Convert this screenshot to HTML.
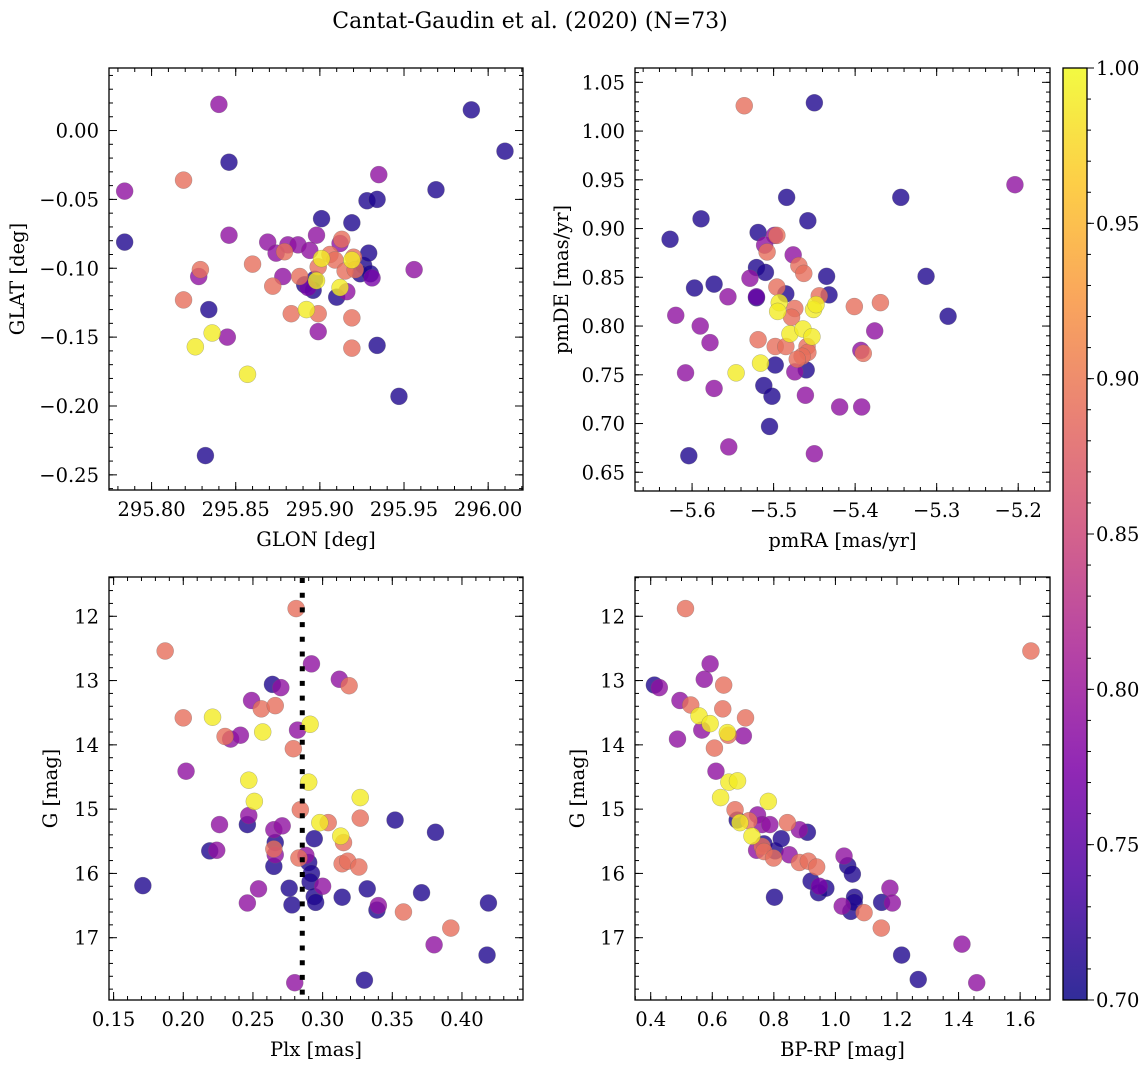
<!DOCTYPE html>
<html><head><meta charset="utf-8">
<style>
html,body{margin:0;padding:0;background:#fff;}
svg{display:block;font-family:"DejaVu Serif","Liberation Serif",serif;}
</style></head>
<body>
<svg id="fig" width="1148" height="1067" viewBox="0 0 1148 1067" xmlns="http://www.w3.org/2000/svg">
<defs>
<linearGradient id="plasma" x1="0" y1="1" x2="0" y2="0">
<stop offset="0" stop-color="#0d0887"/><stop offset="0.125" stop-color="#4c02a1"/>
<stop offset="0.25" stop-color="#7e03a8"/><stop offset="0.375" stop-color="#a92395"/>
<stop offset="0.5" stop-color="#cc4778"/><stop offset="0.625" stop-color="#e56b5d"/>
<stop offset="0.75" stop-color="#f89540"/><stop offset="0.875" stop-color="#fdc527"/>
<stop offset="1" stop-color="#f0f921"/>
</linearGradient>
</defs>
<text x="530" y="28" text-anchor="middle" font-size="22">Cantat-Gaudin et al. (2020) (N=73)</text>
</svg>
<script>
// ---- Panel 1: GLON vs GLAT ----
const p1Lon=[295.784,295.784,295.819,295.840,295.846,295.846,295.819,295.829,295.828,295.834,295.836,295.826,295.845,295.832,295.857,295.860,295.869,295.872,295.874,295.878,295.881,295.879,295.887,295.888,295.883,295.891,295.892,295.893,295.894,295.896,295.897,295.898,295.898,295.899,295.899,295.899,295.901,295.901,295.906,295.909,295.910,295.912,295.913,295.912,295.916,295.915,295.919,295.919,295.919,295.920,295.919,295.921,295.926,295.924,295.928,295.929,295.930,295.931,295.934,295.934,295.935,295.947,295.956,295.969,295.990,296.010];
const p1Lat=[-0.044,-0.081,-0.036,0.019,-0.023,-0.076,-0.123,-0.101,-0.106,-0.130,-0.147,-0.157,-0.150,-0.236,-0.177,-0.097,-0.081,-0.113,-0.089,-0.106,-0.083,-0.088,-0.083,-0.106,-0.133,-0.112,-0.130,-0.114,-0.087,-0.116,-0.108,-0.109,-0.076,-0.099,-0.133,-0.146,-0.064,-0.093,-0.090,-0.094,-0.121,-0.082,-0.079,-0.114,-0.117,-0.102,-0.067,-0.136,-0.158,-0.092,-0.094,-0.101,-0.098,-0.104,-0.051,-0.089,-0.104,-0.107,-0.156,-0.050,-0.032,-0.193,-0.101,-0.043,0.015,-0.015];
const p1Prob=[0.79,0.71,0.89,0.79,0.71,0.79,0.89,0.89,0.79,0.71,0.99,0.99,0.79,0.71,0.99,0.89,0.79,0.89,0.79,0.79,0.79,0.89,0.79,0.89,0.89,0.71,0.99,0.77,0.79,0.71,0.71,0.99,0.79,0.89,0.89,0.79,0.71,0.99,0.89,0.89,0.71,0.79,0.89,0.99,0.79,0.89,0.71,0.89,0.89,0.89,0.99,0.89,0.71,0.71,0.71,0.71,0.71,0.77,0.71,0.71,0.79,0.71,0.79,0.71,0.71,0.71];
// ---- Panel 2: pmRA vs pmDE ----
const p2Pmra=[-5.627,-5.589,-5.597,-5.573,-5.620,-5.590,-5.578,-5.608,-5.573,-5.604,-5.556,-5.555,-5.546,-5.536,-5.529,-5.521,-5.519,-5.510,-5.521,-5.521,-5.511,-5.508,-5.519,-5.516,-5.512,-5.502,-5.505,-5.499,-5.496,-5.496,-5.493,-5.495,-5.498,-5.498,-5.485,-5.485,-5.484,-5.476,-5.469,-5.463,-5.474,-5.478,-5.480,-5.464,-5.459,-5.458,-5.465,-5.471,-5.474,-5.460,-5.461,-5.458,-5.453,-5.451,-5.448,-5.444,-5.450,-5.450,-5.435,-5.432,-5.419,-5.401,-5.393,-5.390,-5.392,-5.376,-5.369,-5.344,-5.313,-5.286,-5.204];
const p2Pmde=[0.889,0.910,0.839,0.843,0.811,0.800,0.783,0.752,0.736,0.667,0.830,0.676,0.752,1.026,0.849,0.860,0.896,0.855,0.830,0.829,0.883,0.876,0.786,0.762,0.739,0.728,0.697,0.893,0.893,0.840,0.824,0.815,0.779,0.760,0.779,0.833,0.932,0.873,0.862,0.854,0.818,0.809,0.792,0.797,0.779,0.773,0.769,0.766,0.753,0.755,0.729,0.908,0.789,0.817,0.822,0.831,1.029,0.669,0.851,0.832,0.717,0.820,0.775,0.772,0.717,0.795,0.824,0.932,0.851,0.810,0.945];
const p2Prob=[0.71,0.71,0.71,0.71,0.79,0.79,0.79,0.79,0.79,0.71,0.79,0.79,0.99,0.89,0.79,0.71,0.71,0.71,0.76,0.71,0.79,0.89,0.89,0.99,0.71,0.71,0.71,0.79,0.89,0.89,0.99,0.99,0.89,0.71,0.89,0.71,0.71,0.79,0.89,0.89,0.89,0.89,0.99,0.99,0.89,0.89,0.89,0.89,0.79,0.71,0.79,0.71,0.99,0.99,0.99,0.89,0.71,0.79,0.71,0.71,0.79,0.89,0.79,0.89,0.79,0.79,0.89,0.71,0.71,0.71,0.79];
// ---- Panel 3: Plx vs G ----
const p3Plx=[0.171,0.187,0.200,0.202,0.221,0.219,0.224,0.226,0.230,0.234,0.241,0.249,0.247,0.251,0.247,0.246,0.246,0.254,0.256,0.257,0.264,0.270,0.266,0.265,0.266,0.265,0.266,0.265,0.271,0.276,0.278,0.279,0.281,0.280,0.282,0.283,0.284,0.288,0.290,0.292,0.291,0.294,0.295,0.292,0.291,0.290,0.294,0.298,0.304,0.300,0.312,0.319,0.313,0.315,0.314,0.318,0.326,0.314,0.327,0.327,0.332,0.330,0.339,0.340,0.352,0.358,0.371,0.381,0.380,0.392,0.418,0.419];
const p3G=[16.19,12.54,13.58,14.41,13.57,15.65,15.64,15.24,13.87,13.91,13.85,13.31,14.55,14.88,15.10,15.24,16.46,16.24,13.44,13.80,13.06,13.11,13.39,15.32,15.52,15.62,15.71,15.89,15.26,16.23,16.49,14.06,11.88,17.70,13.77,15.76,15.01,15.72,15.83,16.00,16.13,16.36,16.45,12.74,13.68,14.58,15.46,15.21,15.21,16.20,12.98,13.08,15.42,15.52,15.85,15.81,15.90,16.37,14.82,15.14,16.24,17.66,16.57,16.50,15.17,16.60,16.30,15.36,17.11,16.85,17.27,16.46];
const p3Prob=[0.71,0.89,0.89,0.79,0.99,0.71,0.79,0.79,0.89,0.79,0.79,0.79,0.99,0.99,0.79,0.71,0.79,0.79,0.89,0.99,0.71,0.79,0.89,0.79,0.71,0.89,0.79,0.71,0.79,0.71,0.71,0.89,0.89,0.79,0.79,0.89,0.89,0.79,0.71,0.71,0.71,0.71,0.71,0.79,0.99,0.99,0.71,0.99,0.89,0.79,0.79,0.89,0.99,0.89,0.89,0.89,0.89,0.71,0.99,0.89,0.71,0.71,0.71,0.79,0.71,0.89,0.71,0.71,0.79,0.89,0.71,0.71];
// ---- Panel 4: BP-RP vs G ----
const p4Col=[0.412,0.428,0.495,0.487,0.513,0.530,0.557,0.566,0.574,0.593,0.593,0.607,0.612,0.627,0.634,0.637,0.652,0.649,0.654,0.682,0.701,0.708,0.674,0.681,0.690,0.719,0.729,0.744,0.747,0.762,0.768,0.762,0.768,0.787,0.782,0.804,0.799,0.802,0.824,0.844,0.850,0.883,0.883,0.909,0.912,0.939,0.921,0.945,0.948,0.969,1.028,1.040,1.055,1.022,1.050,1.062,1.061,1.093,1.150,1.149,1.177,1.185,1.215,1.269,1.411,1.459,1.635];
const p4G=[13.07,13.11,13.31,13.91,11.88,13.38,13.55,13.77,12.98,12.74,13.67,14.05,14.41,14.82,13.44,13.07,13.85,13.81,14.58,14.56,13.86,13.58,15.01,15.17,15.21,15.18,15.42,15.64,15.09,15.24,15.54,15.58,15.66,15.24,14.88,15.65,15.76,16.37,15.46,15.21,15.71,15.83,15.32,15.36,15.81,15.90,16.12,16.30,16.20,16.23,15.73,15.88,16.01,16.51,16.59,16.37,16.45,16.61,16.45,16.85,16.23,16.46,17.27,17.65,17.10,17.70,12.54];
const p4Prob=[0.71,0.79,0.79,0.79,0.89,0.89,0.99,0.79,0.79,0.79,0.99,0.89,0.79,0.99,0.89,0.89,0.89,0.99,0.99,0.99,0.79,0.89,0.89,0.71,0.99,0.89,0.99,0.79,0.79,0.79,0.71,0.89,0.89,0.79,0.99,0.71,0.89,0.71,0.71,0.89,0.79,0.89,0.79,0.71,0.89,0.89,0.71,0.71,0.77,0.71,0.79,0.71,0.71,0.79,0.71,0.71,0.71,0.89,0.71,0.89,0.79,0.79,0.71,0.71,0.79,0.79,0.89];
// ---- Tick labels ----
const p1XTicks=[295.80,295.85,295.90,295.95,296.00];
const p1YTicks=[0.00,-0.05,-0.10,-0.15,-0.20,-0.25];
const p2XTicks=[-5.6,-5.5,-5.4,-5.3,-5.2];
const p2YTicks=[0.65,0.70,0.75,0.80,0.85,0.90,0.95,1.00,1.05];
const p3XTicks=[0.15,0.20,0.25,0.30,0.35,0.40];
const gTicks=[12,13,14,15,16,17];
const p4XTicks=[0.4,0.6,0.8,1.0,1.2,1.4,1.6];
const cbTicks=[0.70,0.75,0.80,0.85,0.90,0.95,1.00];
const plxRef=[0.2854];

const NS='http://www.w3.org/2000/svg';
const svg=document.getElementById('fig');
const FS=19.5;
function mk(tag,attrs,parent){const e=document.createElementNS(NS,tag);for(const k in attrs)e.setAttribute(k,attrs[k]);(parent||svg).appendChild(e);return e;}
const stops=[[13,8,135],[76,2,161],[126,3,168],[169,35,149],[204,71,120],[229,107,93],[248,149,64],[253,197,39],[240,249,33]];
function plasma(t){t=Math.max(0,Math.min(1,t));const s=t*8,i=Math.min(7,Math.floor(s)),f=s-i;const a=stops[i],b=stops[i+1];return 'rgb('+[0,1,2].map(k=>Math.round(a[k]+(b[k]-a[k])*f)).join(',')+')';}
function fmt(v,d){return (v<0?'\u2212':'')+Math.abs(v).toFixed(d);}

function panel(o){
  const g=mk('g',{});
  
  
  const sx=v=>o.x0+(v-o.xd[0])/(o.xd[1]-o.xd[0])*(o.x1-o.x0);
  const sy=v=>o.inv? o.y0+(v-o.yd[0])/(o.yd[1]-o.yd[0])*(o.y1-o.y0) : o.y1-(v-o.yd[0])/(o.yd[1]-o.yd[0])*(o.y1-o.y0);
  const idx=o.xs.map((_,i)=>i).sort((a,b)=>o.ps[a]-o.ps[b]);
  const pg=mk('g',{},g);
  
  
  idx.forEach(i=>{
    const c=mk('circle',{cx:sx(o.xs[i]),cy:sy(o.ys[i]),r:8.5,fill:plasma((o.ps[i]-0.7)/0.3),'fill-opacity':0.8,stroke:'#666','stroke-opacity':0.5,'stroke-width':0.5},pg);
    
    
  });
  if(o.vline){o.vline.forEach(v=>{const l=mk('line',{x1:sx(v),x2:sx(v),y1:o.y0+1,y2:o.y1,stroke:'#000','stroke-width':5,'stroke-dasharray':'5,9.7'},g);
    
    });}
  const f=mk('rect',{x:o.x0,y:o.y0,width:o.x1-o.x0,height:o.y1-o.y0,fill:'none',stroke:'#000','stroke-width':1.3},g);
  
  
  const tk=mk('g',{stroke:'#000','stroke-width':1},g);
  for(let v=Math.ceil(o.xd[0]/o.xm-1e-6)*o.xm; v<=o.xd[1]+1e-9; v+=o.xm){const x=sx(v);
    mk('line',{x1:x,x2:x,y1:o.y1,y2:o.y1-4},tk);mk('line',{x1:x,x2:x,y1:o.y0,y2:o.y0+4},tk);}
  const ylo=Math.min(o.yd[0],o.yd[1]),yhi=Math.max(o.yd[0],o.yd[1]);
  for(let v=Math.ceil(ylo/o.ym-1e-6)*o.ym; v<=yhi+1e-9; v+=o.ym){const y=sy(v);
    mk('line',{x1:o.x0,x2:o.x0+4,y1:y,y2:y},tk);mk('line',{x1:o.x1,x2:o.x1-4,y1:y,y2:y},tk);}
  o.xt.forEach(v=>{const x=sx(v);
    mk('line',{x1:x,x2:x,y1:o.y1,y2:o.y1-8},tk);mk('line',{x1:x,x2:x,y1:o.y0,y2:o.y0+8},tk);
    const t=mk('text',{x:x,y:o.y1+26,'text-anchor':'middle','font-size':FS},g);t.textContent=fmt(v,o.xdp);
    
    });
  o.yt.forEach(v=>{const y=sy(v);
    mk('line',{x1:o.x0,x2:o.x0+8,y1:y,y2:y},tk);mk('line',{x1:o.x1,x2:o.x1-8,y1:y,y2:y},tk);
    const t=mk('text',{x:o.x0-10,y:y+7,'text-anchor':'end','font-size':FS},g);t.textContent=fmt(v,o.ydp);
    
    });
  const xl=mk('text',{x:(o.x0+o.x1)/2,y:o.y1+56,'text-anchor':'middle','font-size':FS},g);xl.textContent=o.xl;
  
  
  const yx=o.ylx,yy=(o.y0+o.y1)/2;
  const yl=mk('text',{x:yx,y:yy,'text-anchor':'middle','font-size':FS,transform:'rotate(-90 '+yx+' '+yy+')'},g);yl.textContent=o.yl;
  
  
}
panel({name:'glon-glat-panel',x0:109,x1:523,y0:68,y1:490,xd:[295.7747,296.0207],yd:[-0.2610,0.0454],xs:p1Lon,ys:p1Lat,ps:p1Prob,xt:p1XTicks,yt:p1YTicks,xm:0.01,ym:0.01,xdp:2,ydp:2,xl:'GLON [deg]',yl:'GLAT [deg]',ylx:24});
panel({name:'pm-panel',x0:635,x1:1050,y0:68,y1:491,xd:[-5.670,-5.161],yd:[0.6308,1.0647],xs:p2Pmra,ys:p2Pmde,ps:p2Prob,xt:p2XTicks,yt:p2YTicks,xm:0.02,ym:0.01,xdp:1,ydp:2,xl:'pmRA [mas/yr]',yl:'pmDE [mas/yr]',ylx:568});
panel({name:'plx-g-panel',x0:109,x1:523,y0:577,y1:1000,xd:[0.1467,0.4438],yd:[11.389,17.969],inv:true,xs:p3Plx,ys:p3G,ps:p3Prob,xt:p3XTicks,yt:gTicks,xm:0.01,ym:0.2,xdp:2,ydp:0,xl:'Plx [mas]',yl:'G [mag]',ylx:57,vline:plxRef});
panel({name:'cmd-panel',x0:635,x1:1050,y0:577,y1:1000,xd:[0.349,1.697],yd:[11.389,17.969],inv:true,xs:p4Col,ys:p4G,ps:p4Prob,xt:p4XTicks,yt:gTicks,xm:0.05,ym:0.2,xdp:1,ydp:0,xl:'BP-RP [mag]',yl:'G [mag]',ylx:584});
const cb=mk('g',{});


const cbx0=1063,cbx1=1087,cby0=68,cby1=1000;
mk('rect',{x:cbx0,y:cby0,width:cbx1-cbx0,height:cby1-cby0,fill:'url(#plasma)','fill-opacity':0.85,stroke:'#000','stroke-width':1.3},cb);
const cs=v=>cby1-(v-0.7)/0.3*(cby1-cby0);
for(let v=0.70;v<=1.0001;v+=0.01){mk('line',{x1:cbx1,x2:cbx1+4,y1:cs(v),y2:cs(v),stroke:'#000','stroke-width':1},cb);}
cbTicks.forEach(v=>{mk('line',{x1:cbx1,x2:cbx1+7,y1:cs(v),y2:cs(v),stroke:'#000','stroke-width':1},cb);
  const t=mk('text',{x:1096,y:cs(v)+7,'font-size':FS},cb);t.textContent=v.toFixed(2);
  
  });
</script>
</body></html>
